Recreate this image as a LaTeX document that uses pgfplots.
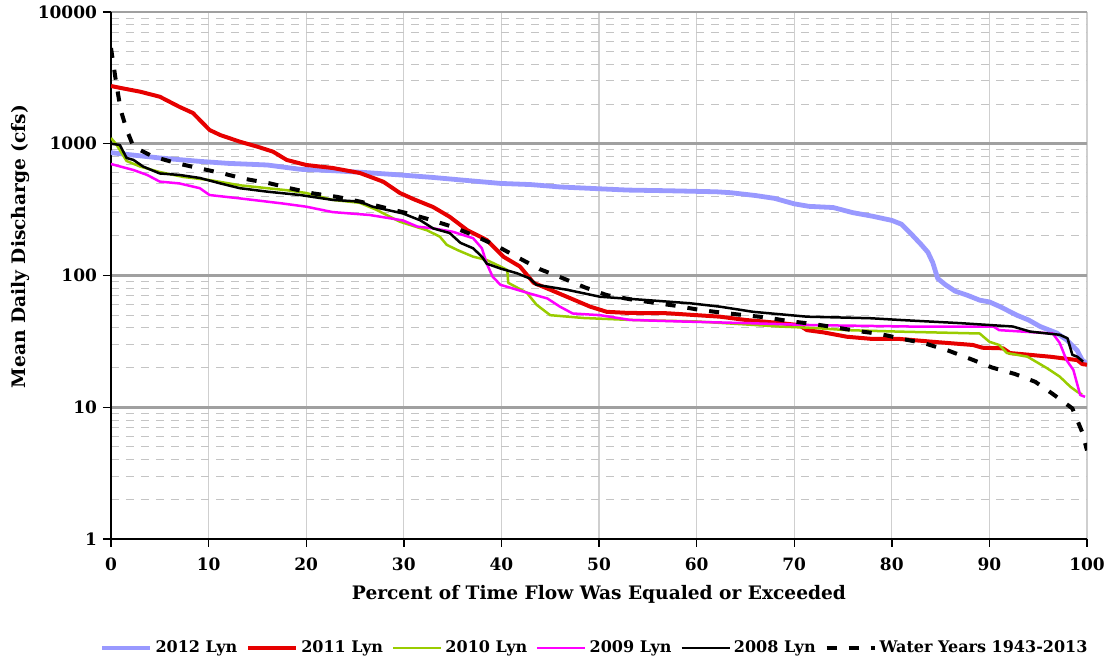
\documentclass[border=0pt]{standalone}
\usepackage{pgfplots}
\pgfplotsset{compat=1.18}
\usepackage{fontspec}
\setmainfont{DejaVu Serif}

\definecolor{c2012}{HTML}{9999FF}
\definecolor{c2011}{HTML}{E60000}
\definecolor{c2010}{HTML}{99CC00}
\definecolor{c2009}{HTML}{FF00FF}
\definecolor{majorgrid}{HTML}{A0A0A0}
\definecolor{minorgrid}{HTML}{C4C4C4}
\definecolor{vgrid}{HTML}{CFCFCF}

\begin{document}
\begin{tikzpicture}
\useasboundingbox (-55.5pt,-60.5pt) rectangle (498pt,269.5pt);
\begin{axis}[
  at={(0,0)}, anchor=south west,
  scale only axis,
  width=488pt, height=263.5pt,
  ymode=log,
  xmin=0, xmax=100, ymin=1, ymax=10000,
  axis x line*=bottom, axis y line*=left,
  axis line style={black, line width=0.8pt},
  xtick={0,10,...,100},
  ytick={1,10,100,1000,10000},
  yticklabels={1,10,100,1000,10000},
  minor tick length=0pt,
  major tick length=4pt,
  tick align=outside,
  tick style={black, line width=0.7pt},
  /pgf/number format/assume math mode=true,
  ticklabel style={font=\bfseries\fontsize{8.5}{10}\selectfont},
  xticklabel style={yshift=-2pt},
  yticklabel style={xshift=0.5pt},
  xmajorgrids, ymajorgrids, yminorgrids,
  x grid style={vgrid, line width=0.6pt},
  major y grid style={majorgrid, line width=1.3pt},
  minor y grid style={minorgrid, line width=0.5pt, dash pattern=on 4pt off 3.5pt},
  xlabel={\bfseries\fontsize{9.3}{12}\selectfont Percent of Time Flow Was Equaled or Exceeded},
  ylabel={\bfseries\fontsize{9.3}{12}\selectfont Mean Daily Discharge (cfs)},
  xlabel style={at={(axis description cs:0.5,0)}, anchor=center, yshift=-27.5pt},
  ylabel style={at={(axis description cs:0,0.555)}, anchor=center, yshift=45pt},
  legend columns=6,
  legend cell align=left,
  legend style={draw=none, fill=none, at={(0.496,-0.207)}, anchor=center,
    font=\bfseries\fontsize{8}{10}\selectfont,
    nodes={inner sep=1.5pt},
    /tikz/every even column/.append style={column sep=3pt}},
  legend image code/.code={\draw[#1] (0pt,0pt) -- (24pt,0pt);},
  clip=true,
]
% 2012
\addplot[c2012, line width=2.4pt, line join=round] coordinates {
(0,855)(2.3,820)(5,780)(9.1,735)(12,710)(16,690)(19.4,640)(22.7,625)(26,605)
(29.6,580)(33,555)(36,530)(39.9,500)(43,490)(46,470)(50.1,455)(53,445)(57,440)
(62,432)(63.5,425)(66,405)(68,385)(70,350)(71.5,335)(74,328)(76,300)(78,282)
(80,262)(81,245)(81.9,210)(83,172)(83.7,150)(84.2,125)(84.7,95)(85.5,85)
(86.5,76)(87.7,71)(89,65)(90,63)(91.1,58)(92.8,50)(94,46)(95.2,41)(96.9,36.6)
(97.9,32.5)(99,27)(99.5,22.8)(100,21.5)};
\addlegendentry{2012 Lyn}
% 2011
\addplot[c2011, line width=2pt, line join=round] coordinates {
(0,2743)(1,2650)(3,2483)(5,2275)(7,1908)(8.4,1711)(10.1,1272)(11.2,1164)
(13.2,1037)(15,950)(16.6,871)(18,754)(20,690)(22.7,655)(25.5,600)(27.9,515)
(29.6,423)(31,380)(33,331)(34.7,279)(36.5,221)(38.5,186)(40.2,139)(41.9,117)
(43.3,88)(45,78)(46.7,69)(49.1,58)(50.8,53)(53,52)(57,51.7)(60,50)(62.4,48.7)
(65,46)(68.5,43.6)(70.5,42)(71.3,38.5)(73,37)(75.4,34.3)(78,33)(80.8,33)
(84.2,31.4)(88.3,29.7)(89.3,28.3)(91.4,28)(92.1,25.8)(96.2,24.2)(99,22.8)
(99.5,21.3)(100,21)};
\addlegendentry{2011 Lyn}
% 2010
\addplot[c2010, line width=1.25pt, line join=round] coordinates {
(0,1106)(0.5,1000)(1.6,740)(3,671)(5,610)(7.4,560)(10.1,530)(13.2,484)(16,460)
(18,444)(20,423)(22.7,375)(25.5,356)(27.2,315)(29.6,256)(32.4,220)(33.7,197)
(34.4,171)(35.5,156)(37.1,139)(38.5,131)(39.9,117)(40.6,110)(40.7,88)(42.6,74)
(43.6,60)(45,50)(48.4,47.6)(53.2,46)(60,44.8)(68.5,41)(72,40)(75.4,38.5)
(80.8,37.5)(89,36.3)(90,31.4)(91,29.7)(91.8,25.8)(93.9,24.2)(95.9,19.8)
(97.2,17.1)(98.3,14.3)(99,13.1)(99.5,12.5)};
\addlegendentry{2010 Lyn}
% 2009
\addplot[c2009, line width=1.25pt, line join=round] coordinates {
(0,702)(2.3,632)(3.7,580)(5,516)(7,500)(9.1,460)(10.1,408)(13.2,385)(17.6,352)
(20,333)(22.7,303)(26.5,288)(29.9,262)(31.4,235)(33,228)(35,215)(37.1,192)
(38,161)(38.5,123)(39.1,98)(39.9,85)(41.6,78)(42.9,73)(44.7,67)(46,58)
(47.3,51.5)(50.1,50)(53.2,46)(58.3,44.8)(65.2,43.5)(72,42)(81.9,41)(90.4,41)
(91,38.5)(96.5,36.3)(97.2,30.8)(97.9,22.8)(98.6,19.2)(99.3,12.4)(99.8,12)};
\addlegendentry{2009 Lyn}
% 2008
\addplot[black, line width=1.25pt, line join=round] coordinates {
(0,1000)(0.9,980)(1.6,780)(2.3,754)(3.3,671)(5,595)(7,580)(9.1,550)(11.2,500)
(13.2,460)(16,433)(19.4,408)(22.7,375)(25.5,364)(26.8,333)(29.9,296)(31.7,262)
(33,228)(34.7,210)(35.8,177)(37.1,161)(38,139)(38.5,123)(39.9,113)(41.6,104)
(42.9,95)(43.6,85)(46.7,78)(50.1,69)(55,65)(59.3,61.6)(62.4,58)(65.8,53)
(71.3,48.7)(77.8,47.4)(80.8,46)(87,43.5)(92.4,41)(94.2,37.5)(97.2,35.5)
(98,33.4)(98.5,25)(99,24.2)(99.6,22.2)};
\addlegendentry{2008 Lyn}
% long-term record
\addplot[black, line width=2pt, dash pattern=on 5pt off 6pt] coordinates {
(0,5330)(0.5,3000)(1,1800)(1.6,1280)(2.3,950)(4.3,800)(6.8,710)(9.1,650)
(11.5,595)(13.5,545)(16.3,500)(18.3,460)(20.7,420)(23.2,395)(25.5,364)
(27.7,332)(30.1,300)(32.5,268)(34.7,238)(37.1,203)(39.5,168)(41.7,137)
(43.9,112)(46.2,96)(48.6,81)(50.8,71)(53.2,66)(55.4,62.5)(57.8,59)(60.2,55)
(62.6,52.2)(64.9,50)(67.2,48)(69.5,45)(71.8,43)(74.2,40.4)(76.4,38)(78.8,36)
(81.1,33)(83.4,30.5)(85.8,26.9)(88.1,23.2)(90.3,20)(92.6,17.9)(94.7,15.6)
(96.5,12.6)(98.5,9.8)(99.5,6.5)(100,4.7)};
\addlegendentry{Water Years 1943-2013}
\end{axis}
\end{tikzpicture}
\end{document}
